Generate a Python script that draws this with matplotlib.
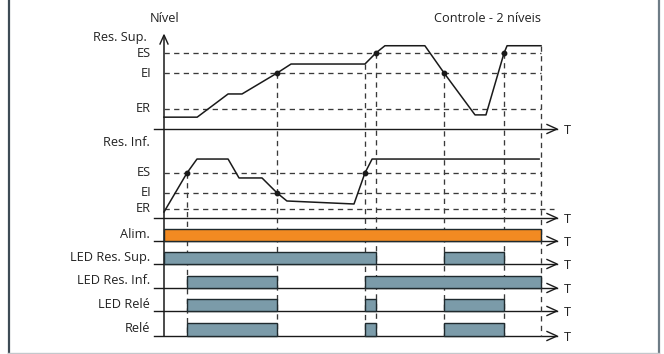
import numpy as np
import matplotlib
matplotlib.use("Agg")
import matplotlib.pyplot as plt
from matplotlib.transforms import blended_transform_factory

plt.rcParams['font.family'] = ['Open Sans', 'DejaVu Sans']

# ---------------- data ----------------
# time in arbitrary units (0..100), levels in percent of panel height
title_left = "Nível"
title_right = "Controle - 2 níveis"

sup_thresholds = {"ES": 83.5, "EI": 61.5, "ER": 22.0}
sup_t = [0, 8.8, 17, 20.7, 30, 33.7, 53.3, 56.2, 58.6, 69.2, 74.3, 82.5, 85.4, 90.2, 91.0, 100]
sup_lvl = [13, 13, 38.5, 38.5, 61.5, 71.4, 71.4, 83.5, 91.5, 91.5, 61.5, 15.5, 15.5, 83.5, 91.5, 91.5]
sup_dots_t = [30, 56.2, 74.3, 90.2]

inf_thresholds = {"ES": 49.5, "EI": 27.5, "ER": 9.9}
inf_t = [0, 6.1, 8.75, 17, 19.9, 26, 30, 32.6, 50.4, 53.3, 55.2, 99.5]
inf_lvl = [6.6, 49.5, 64.8, 64.8, 44, 44, 27.5, 18.7, 15.4, 49.5, 64.8, 64.8]
inf_dots_t = [6.1, 30, 53.3]

sup_events = [30, 53.3, 56.2, 74.3, 90.2, 100]
inf_events = [6.1]

digital_labels = ["Alim.", "LED Res. Sup.", "LED Res. Inf.", "LED Relé", "Relé"]
digital_on = [
    [(0, 100)],
    [(0, 56.2), (74.3, 90.2)],
    [(6.1, 30), (53.3, 100)],
    [(6.1, 30), (53.3, 56.2), (74.3, 90.2)],
    [(6.1, 30), (53.3, 56.2), (74.3, 90.2)],
]
digital_colors = ["#F28A22", "#7B9BA9", "#7B9BA9", "#7B9BA9", "#7B9BA9"]

# ---------------- layout (pixels) ----------------
W, H = 664, 354
fig = plt.figure(figsize=(W / 100, H / 100), dpi=100)
ov = fig.add_axes([0, 0, 1, 1])
ov.set_xlim(0, W)
ov.set_ylim(H, 0)
ov.axis('off')

X0, X1 = 164, 541          # time 0 .. 100
AX_LEFT, AX_RIGHT = 154, 557
LABEL_X = 151
FS = 9.2
INK = "#1a1a1a"
TXT = "#222222"
DASH = "#3a3a3a"


def add_panel(y_bottom_px, y_top_px, ylim):
    a = fig.add_axes([X0 / W, (H - y_bottom_px) / H, (X1 - X0) / W,
                      (y_bottom_px - y_top_px) / H])
    a.set_xlim(0, 100)
    a.set_ylim(*ylim)
    a.axis('off')
    a.patch.set_alpha(0)
    return a


ax1 = add_panel(129, 38, (0, 100))
ax2 = add_panel(218, 127, (0, 100))

dig_axis_y = [241, 264, 288, 311, 336]
dig_top_y = [229, 252, 276, 299, 323]
dig_axes = [add_panel(b, t, (0, 1)) for b, t in zip(dig_axis_y, dig_top_y)]

dash_kw = dict(color=DASH, lw=0.95, dashes=(4.0, 3.3), clip_on=False, zorder=1)


def to_ov(a, x, y):
    return ov.transData.inverted().transform(a.transData.transform((x, y)))


# thresholds
for a, th, ext in ((ax1, sup_thresholds, {}), (ax2, inf_thresholds, {"ER": 103.4})):
    for name, v in th.items():
        a.plot([0, ext.get(name, 100)], [v, v], **dash_kw)
        px = to_ov(a, 0, v)
        ov.text(LABEL_X, px[1], name, ha='right', va='center', fontsize=FS, color=TXT)

# level curves
ax1.plot(sup_t, sup_lvl, color=INK, lw=1.1, clip_on=False, zorder=3)
ax1.plot(sup_dots_t, np.interp(sup_dots_t, sup_t, sup_lvl), 'o', color=INK, ms=3.2,
         clip_on=False, zorder=4)
ax2.plot(inf_t, inf_lvl, color=INK, lw=1.1, clip_on=False, zorder=3)
ax2.plot(inf_dots_t, np.interp(inf_dots_t, inf_t, inf_lvl), 'o', color=INK, ms=3.2,
         clip_on=False, zorder=4)

# vertical dashed event lines down to the last axis
bottom_y = dig_axis_y[-1]
for src, ts, tl, evs in ((ax1, sup_t, sup_lvl, sup_events), (ax2, inf_t, inf_lvl, inf_events)):
    tr = blended_transform_factory(src.transData, ov.transData)
    for e in evs:
        start = to_ov(src, e, np.interp(e, ts, tl))[1]
        src.plot([e, e], [start, bottom_y], transform=tr, **dash_kw)

# digital bars
for a, spans, col in zip(dig_axes, digital_on, digital_colors):
    for s, e in spans:
        a.bar(s, 1, width=e - s, align='edge', color=col, edgecolor="#1f2a2e",
              lw=1.0, clip_on=False, zorder=2)

# axes lines, arrows and T labels
for y in [129, 218] + dig_axis_y:
    ov.plot([AX_LEFT, AX_RIGHT], [y, y], color=INK, lw=1.0, zorder=5)
    ov.plot([AX_RIGHT - 10, AX_RIGHT, AX_RIGHT - 10], [y - 4.5, y, y + 4.5],
            color=INK, lw=1.0, zorder=5)
    ov.text(567, y + 1.5, "T", ha='center', va='center', fontsize=FS, color=TXT)

# vertical axis with arrow
ov.plot([X0, X0], [36, bottom_y], color=INK, lw=1.1, zorder=5)
ov.plot([X0 - 4, X0, X0 + 4], [44, 35, 44], color=INK, lw=1.0, zorder=5)

# labels
ov.text(165, 18, title_left, ha='center', va='center', fontsize=FS, color=TXT)
ov.text(488, 18, title_right, ha='center', va='center', fontsize=FS, color=TXT)
ov.text(147, 38, "Res. Sup.", ha='right', va='center', fontsize=FS, color=TXT)
ov.text(150, 143, "Res. Inf.", ha='right', va='center', fontsize=FS, color=TXT)
for lab, yb, yt in zip(digital_labels, dig_axis_y, dig_top_y):
    ov.text(LABEL_X - 1, (yb + yt) / 2 - 1, lab, ha='right', va='center', fontsize=FS, color=TXT)

# frame
ov.plot([8.5, 8.5], [0, 353], color="#3d4b55", lw=1.6)
ov.plot([658.5, 658.5], [0, 353], color="#6e7c86", lw=1.6)
ov.plot([8, 659], [353, 353], color="#c4c8cc", lw=1.0)

fig.savefig("out.png", dpi=100)
